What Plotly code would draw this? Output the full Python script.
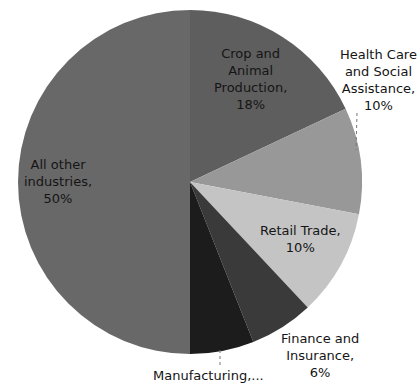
import plotly.graph_objects as go

labels = ["Crop and Animal Production", "Health Care and Social Assistance", "Retail Trade",
          "Finance and Insurance", "Manufacturing", "All other industries"]
values = [18, 10, 10, 6, 6, 50]
label_texts = ["Crop and<br>Animal<br>Production,<br>18%",
               "Health Care<br>and Social<br>Assistance,<br>10%",
               "Retail Trade,<br>10%",
               "Finance and<br>Insurance,<br>6%",
               "Manufacturing,...",
               "All other<br>industries,<br>50%"]
colors = ["#5e5e5e", "#989898", "#c4c4c4", "#3a3a3a", "#1c1c1c", "#686868"]

# label centre positions in pixels (x from left, y from top)
label_px = [(250, 79), (378, 80), (300, 239), (320, 355), (208, 375), (58, 182)]

W, H = 420, 385
cx, cy, r = 190, 182, 172

fig = go.Figure(go.Pie(
    labels=labels, values=values, sort=False, direction="clockwise", rotation=0,
    marker=dict(colors=colors, line=dict(width=0)),
    textinfo="none", hoverinfo="label+percent", showlegend=False,
    domain=dict(x=[(cx - r) / W, (cx + r) / W], y=[(H - cy - r) / H, (H - cy + r) / H]),
))

for t, (px, py) in zip(label_texts, label_px):
    fig.add_annotation(text=t, x=px / W, y=1 - py / H, xref="paper", yref="paper",
                       xanchor="center", yanchor="middle",
                       showarrow=False, align="center",
                       font=dict(family="DejaVu Sans", size=13, color="#151515"))

# leader lines
fig.add_shape(type="line", x0=357 / W, x1=356 / W, y0=1 - 113 / H, y1=1 - 150 / H,
              xref="paper", yref="paper", line=dict(color="#777", width=1, dash="dot"))
fig.add_shape(type="line", x0=220 / W, x1=220 / W, y0=1 - 350 / H, y1=1 - 366 / H,
              xref="paper", yref="paper", line=dict(color="#777", width=1, dash="dot"))

fig.update_layout(width=W, height=H, margin=dict(l=0, r=0, t=0, b=0),
                  paper_bgcolor="white", plot_bgcolor="white")
fig.write_html("out.html")
